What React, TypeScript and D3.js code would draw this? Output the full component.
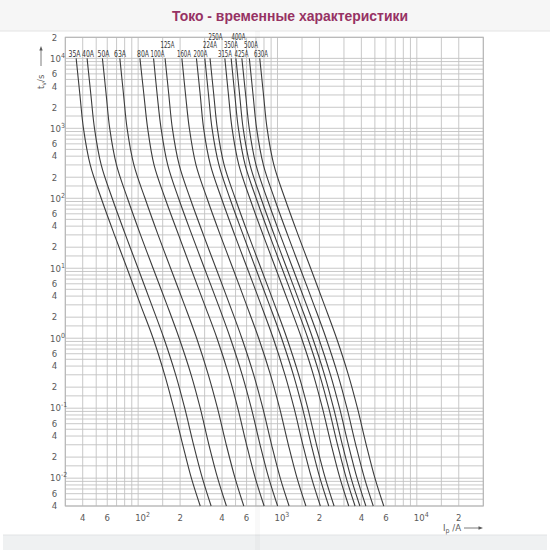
import React from 'react';
import * as d3 from 'd3';

// Time points (s) at which each curve's current was read
const times = [10000, 3000, 1000, 300, 100, 30, 10, 3, 1, 0.3, 0.1, 0.03, 0.01, 0.004];

const ratings = ['35A', '40A', '50A', '63A', '80A', '100A', '125A', '160A', '200A', '224A', '250A', '315A', '350A', '400A', '425A', '500A', '630A'];

// Prospective current (A) for each curve at the above times
const c35 = [35.9, 38.2, 40.5, 45.3, 54.3, 67.6, 83.2, 104, 128, 155, 180, 209, 241, 279];
const c40 = [43.0, 45.8, 48.6, 54.3, 65.1, 81.1, 99.8, 125, 153, 186, 216, 250, 289, 334];
const c50 = [55.4, 59.0, 62.5, 69.9, 83.8, 104, 128, 161, 197, 240, 279, 322, 372, 430];
const c63 = [73.9, 78.6, 83.3, 93.2, 112, 139, 171, 215, 263, 319, 371, 429, 496, 573];
const c80 = [103, 110, 117, 130, 156, 195, 239, 300, 368, 447, 519, 600, 693, 802];
const c100 = [129, 137, 146, 163, 195, 243, 299, 376, 459, 558, 649, 750, 866, 1002];
const c125 = [156, 166, 176, 197, 236, 294, 362, 454, 555, 675, 785, 907, 1047, 1211];
const c160 = [206, 219, 233, 260, 312, 388, 478, 599, 733, 891, 1036, 1197, 1382, 1599];
const c200 = [262, 279, 295, 330, 396, 493, 607, 762, 932, 1132, 1316, 1521, 1757, 2032];
const c224 = [301, 320, 339, 380, 455, 567, 697, 875, 1070, 1301, 1512, 1747, 2018, 2334];
const c250 = [328, 349, 370, 414, 497, 618, 761, 955, 1168, 1420, 1650, 1907, 2203, 2548];
const c315 = [419, 445, 472, 528, 633, 788, 970, 1217, 1489, 1810, 2103, 2431, 2808, 3247];
const c350 = [465, 494, 524, 586, 703, 875, 1077, 1351, 1652, 2008, 2334, 2698, 3116, 3604];
const c400 = [503, 535, 567, 635, 761, 947, 1166, 1463, 1789, 2174, 2527, 2921, 3374, 3902];
const c425 = [555, 591, 627, 701, 840, 1046, 1287, 1615, 1976, 2401, 2791, 3226, 3725, 4308];
const c500 = [628, 668, 708, 792, 949, 1182, 1454, 1825, 2232, 2713, 3153, 3645, 4209, 4868];
const c630 = [746, 794, 842, 942, 1129, 1405, 1730, 2170, 2655, 3227, 3750, 4335, 5006, 5790];
const curves = [c35, c40, c50, c63, c80, c100, c125, c160, c200, c224, c250, c315, c350, c400, c425, c500, c630];

// Grid / tick definitions
const gridMantissas = [1, 1.5, 2, 3, 4, 5, 6, 7, 8, 9];
const xDecades = [10, 100, 1000, 10000];
const yDecades = [0.001, 0.01, 0.1, 1, 10, 100, 1000, 10000];
const yGridSkip = [15000];
const xTickLabels = [40, 60, 100, 200, 400, 600, 1000, 2000, 4000, 6000, 10000, 20000];
const yTickLabels = [20000, 10000, 6000, 4000, 2000, 1000, 600, 400, 200, 100, 60, 40, 20, 10, 6, 4, 2, 1, 0.6, 0.4, 0.2, 0.1, 0.06, 0.04, 0.02, 0.01, 0.006, 0.004];

// Label layout (pixel centres and stacking rows)
const labelX = [74.5, 88, 103.5, 120, 143, 157.5, 167.5, 184, 200.5, 210, 215.5, 225, 231, 238.5, 241.5, 251, 261];
const labelRow = [0, 0, 0, 0, 0, 0, 1, 0, 0, 1, 2, 0, 1, 2, 0, 1, 0];
const rowBaseline = [57.3, 48.3, 40];

const FONT = "'Liberation Sans Narrow', 'DejaVu Sans Condensed', 'Liberation Sans', sans-serif";

function isDecade(v: number) {
  const l = Math.log10(v);
  return Math.abs(l - Math.round(l)) < 1e-9;
}
function mantissa(v: number) {
  const e = Math.floor(Math.log10(v) + 1e-9);
  return Math.round(v / Math.pow(10, e));
}

export default function App() {
  const W = 550, H = 550;
  const x = d3.scaleLog().domain([30, 30000]).range([65.3, 483.3]);
  const y = d3.scaleLog().domain([20000, 0.004]).range([37.3, 506]);
  const [x0, x1] = x.range();
  const [y0, y1] = y.range();

  const xGrid: number[] = [];
  xDecades.forEach((d) => gridMantissas.forEach((m) => {
    const v = +(m * d).toPrecision(6);
    if (v >= 30 && v <= 30000) xGrid.push(v);
  }));
  const yGrid: number[] = [];
  yDecades.forEach((d) => gridMantissas.forEach((m) => {
    const v = +(m * d).toPrecision(6);
    if (v >= 0.004 && v <= 20000 && !yGridSkip.includes(v)) yGrid.push(v);
  }));

  const line = d3.line<number>()
    .x((d) => x(d))
    .y((_, i) => y(times[i]))
    .curve(d3.curveCatmullRom.alpha(0.5));

  const gridColor = '#c2c2c2';
  const tickColor = '#5a5a5a';

  return (
    <svg width={W} height={H} style={{ position: 'absolute', left: 0, top: 0, background: '#fff' }}>
      {/* page bands */}
      <rect x={0} y={0} width={W} height={31} fill="#f6f6f6" />
      <line x1={0} x2={W} y1={31} y2={31} stroke="#e4e4e4" strokeWidth={1} />
      <rect x={3} y={535} width={544} height={15} fill="#eff1f2" />
      <line x1={3} x2={547} y1={535} y2={535} stroke="#e2e4e5" strokeWidth={1} />

      <text x={290} y={21} textAnchor="middle" fontFamily="'Liberation Sans', Arial, sans-serif"
        fontWeight="bold" fontSize={14} fill="#963264" textLength={236} lengthAdjust="spacingAndGlyphs">
        Токо - временные характеристики
      </text>

      {/* grid */}
      <g>
        {xGrid.map((v, i) => (
          <line key={'xg' + i} x1={x(v)} x2={x(v)} y1={y0} y2={y1} stroke={gridColor} strokeWidth={0.9} />
        ))}
        {yGrid.map((v, i) => (
          <line key={'yg' + i} x1={x0} x2={x1} y1={y(v)} y2={y(v)} stroke={gridColor} strokeWidth={0.9} />
        ))}
        <rect x={x0} y={y0} width={x1 - x0} height={y1 - y0} fill="none" stroke="#b5b5b5" strokeWidth={1} />
      </g>

      {/* fold artefact */}
      <rect x={255} y={31} width={5} height={519} fill="#000" opacity={0.025} />

      {/* curves */}
      <g fill="none" stroke="#3c3c3c" strokeWidth={1.1}>
        {curves.map((c, i) => (
          <path key={'c' + i} d={line(c) || ''} />
        ))}
      </g>

      {/* curve labels */}
      <g fontFamily={FONT} fontSize={8} fill="#333" textAnchor="middle">
        {ratings.map((r, i) => (
          <text key={'l' + i} x={labelX[i]} y={rowBaseline[labelRow[i]]}
            textLength={r.length > 3 ? 14 : 12} lengthAdjust="spacingAndGlyphs">{r}</text>
        ))}
      </g>

      {/* y tick labels */}
      <g fontFamily={FONT} fontSize={9.5} fill={tickColor}>
        {yTickLabels.map((v, i) => {
          const yy = y(v) + 3.3;
          if (isDecade(v)) {
            const e = Math.round(Math.log10(v));
            return (
              <text key={'yl' + i} x={50} y={yy}>
                10<tspan dy={-4} fontSize={7}>{e < 0 ? '-' + (-e) : String(e)}</tspan>
              </text>
            );
          }
          return <text key={'yl' + i} x={54.5} y={yy} textAnchor="middle">{mantissa(v)}</text>;
        })}
      </g>

      {/* x tick labels */}
      <g fontFamily={FONT} fontSize={9.5} fill={tickColor}>
        {xTickLabels.map((v, i) => {
          const xx = x(v);
          if (isDecade(v)) {
            const e = Math.round(Math.log10(v));
            return (
              <text key={'xl' + i} x={xx - 3} y={521}>
                10<tspan dy={-4} fontSize={7}>{String(e)}</tspan>
              </text>
            );
          }
          return <text key={'xl' + i} x={xx} y={521} textAnchor="middle">{mantissa(v)}</text>;
        })}
      </g>

      {/* axis titles */}
      <g fontFamily={FONT} fill={tickColor} stroke="none">
        <text transform="translate(44,89) rotate(-90)" fontSize={9.5}>
          t<tspan dy={2} fontSize={7}>v</tspan><tspan dy={-2}>/s</tspan>
        </text>
        <line x1={41} x2={41} y1={66} y2={49} stroke={tickColor} strokeWidth={0.8} />
        <path d="M41,46 L39.3,50.5 L42.7,50.5 Z" fill={tickColor} />

        <text x={443} y={530.5} fontSize={9.5}>
          I<tspan dy={2} fontSize={7}>p</tspan><tspan dy={-2}> /A</tspan>
        </text>
        <line x1={464} x2={479} y1={528} y2={528} stroke={tickColor} strokeWidth={0.8} />
        <path d="M483,528 L478.5,526.3 L478.5,529.7 Z" fill={tickColor} />
      </g>
    </svg>
  );
}
